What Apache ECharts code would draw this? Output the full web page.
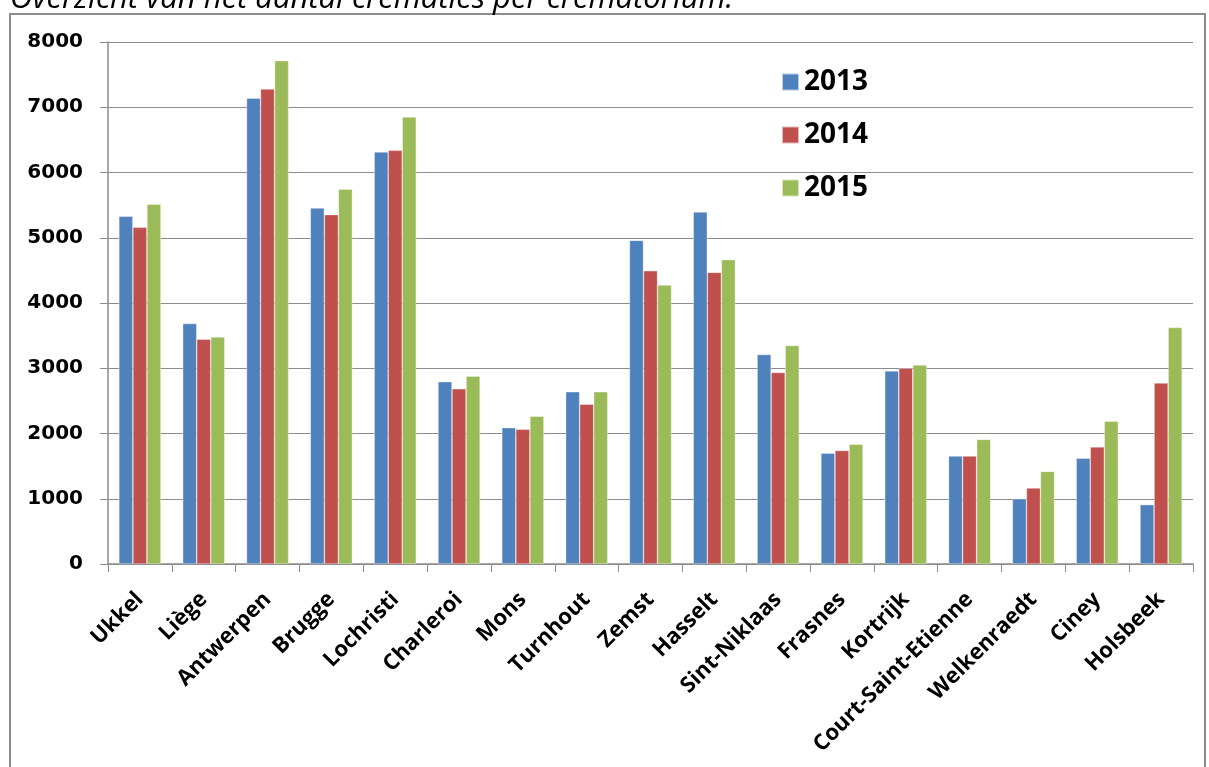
<!DOCTYPE html>
<html><head><meta charset="utf-8">
<script src="https://cdn.jsdelivr.net/npm/echarts@6/dist/echarts.min.js"></script>
<style>html,body{margin:0;padding:0;background:#fff;}#c{width:1209px;height:767px;}</style>
</head><body><div id="c"></div>
<script>
const categories = ["Ukkel","Liège","Antwerpen","Brugge","Lochristi","Charleroi","Mons","Turnhout","Zemst","Hasselt","Sint-Niklaas","Frasnes","Kortrijk","Court-Saint-Etienne","Welkenraedt","Ciney","Holsbeek"];
const v2013 = [5330,3685,7140,5455,6315,2795,2090,2640,4960,5395,3210,1700,2960,1655,1000,1620,910];
const v2014 = [5160,3445,7280,5355,6340,2685,2065,2450,4495,4470,2935,1740,3000,1655,1165,1795,2775];
const v2015 = [5515,3480,7715,5745,6850,2880,2265,2640,4275,4665,3350,1835,3050,1910,1420,2190,3625];
const yTicks = [0,1000,2000,3000,4000,5000,6000,7000,8000];
const seriesNames = ["2013","2014","2015"];
const colors = ["#4F81BD","#C0504D","#9BBB59"];

const chart = echarts.init(document.getElementById('c'));
const mk = (name, data, i) => ({
  name, type:'bar', data, barGap:'0%', barCategoryGap:'34%',
  itemStyle:{color:colors[i], borderColor:'rgba(255,255,255,0.6)', borderWidth:0.6},
  animation:false
});
chart.setOption({
  animation:false,
  graphic:[
    {type:'rect', shape:{x:10, y:14, width:1195, height:770}, style:{fill:'none', stroke:'#8c8c8c', lineWidth:2}, z:-1},
    {type:'text', x:10, y:15, style:{text:'Overzicht van het aantal crematies per crematorium.', font:'italic 31px "Open Sans"', fill:'#000', verticalAlign:'bottom', align:'left'}}
  ],
  legend:{
    orient:'vertical', left:781, top:67, padding:0, itemWidth:17, itemHeight:17, itemGap:23,
    icon:'rect',
    textStyle:{fontSize:28, lineHeight:30, fontWeight:'bold', fontFamily:'"Open Sans"', color:'#000'},
    data:seriesNames
  },
  grid:{left:108, right:16, top:42, bottom:203, containLabel:false},
  xAxis:{
    type:'category', data:categories,
    axisLine:{lineStyle:{color:'#8c8c8c', width:1.5}},
    axisTick:{show:true, length:8, lineStyle:{color:'#8c8c8c'}},
    axisLabel:{rotate:45, interval:0, margin:32, fontSize:22, fontWeight:'bold', fontFamily:'"Open Sans"', color:'#000'}
  },
  yAxis:{
    type:'value', min:0, max:8000, interval:1000,
    axisLine:{show:true, lineStyle:{color:'#8c8c8c', width:1.5}},
    axisTick:{show:true, length:8, inside:false, lineStyle:{color:'#8c8c8c'}},
    splitLine:{lineStyle:{color:'#8c8c8c', width:1.2}},
    axisLabel:{margin:25, fontSize:20, fontWeight:'bold', fontFamily:'"DejaVu Sans"', color:'#000',
      formatter:(v)=> yTicks.includes(v) ? String(v) : ''}
  },
  series:[mk(seriesNames[0],v2013,0), mk(seriesNames[1],v2014,1), mk(seriesNames[2],v2015,2)]
});
</script></body></html>
